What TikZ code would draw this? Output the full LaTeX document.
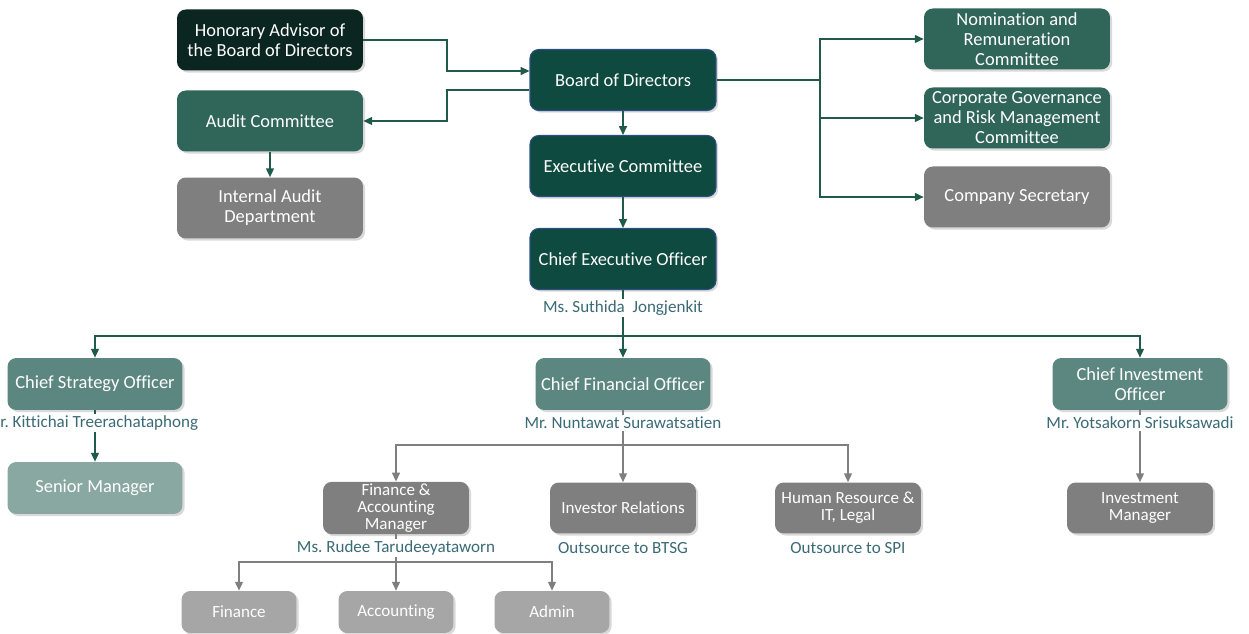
\documentclass[tikz,border=0pt]{standalone}
\usepackage{fontspec}
\setmainfont{Carlito}[Ligatures=NoCommon]
\usetikzlibrary{arrows.meta,shadows}
\frenchspacing

\definecolor{honcol}{HTML}{0B2621}
\definecolor{boardcol}{HTML}{0E4A3F}
\definecolor{boardline}{HTML}{2C4E86}
\definecolor{comcol}{HTML}{30655A}
\definecolor{offcol}{HTML}{5B8780}
\definecolor{seniorcol}{HTML}{88A8A1}
\definecolor{graycol}{HTML}{7F7F7F}
\definecolor{lightcol}{HTML}{A6A6A6}
\definecolor{linegreen}{HTML}{1F5A4B}
\definecolor{linegray}{HTML}{7F7F7F}
\definecolor{namecol}{HTML}{3A6A75}

\tikzset{
  orgbox/.style={rounded corners=5pt, text=white, align=center, inner sep=1pt,
    drop shadow={shadow xshift=1.2pt, shadow yshift=-1.2pt, opacity=0.3}},
  topbox/.style={orgbox, minimum width=3.72cm, minimum height=1.22cm,
    font=\fontsize{10.5}{11.4}\selectfont},
  boardbox/.style={topbox, fill=boardcol, draw=boardline, line width=0.6pt},
  midbox/.style={orgbox, minimum width=3.5cm, minimum height=1.04cm,
    font=\fontsize{10.5}{11.6}\selectfont, fill=offcol},
  lowbox/.style={orgbox, minimum width=2.92cm, minimum height=1.02cm,
    font=\fontsize{9.7}{9.7}\selectfont, fill=graycol},
  unitbox/.style={orgbox, minimum width=2.3cm, minimum height=0.84cm,
    font=\fontsize{9.7}{10}\selectfont, fill=lightcol},
  person/.style={fill=white, text=namecol, inner sep=1pt,
    font=\fontsize{9.7}{10}\selectfont},
  gline/.style={draw=linegreen, line width=0.8pt},
  garrow/.style={gline, -{Triangle[length=5pt,width=4.5pt]}},
  kline/.style={draw=linegray, line width=0.8pt},
  karrow/.style={kline, -{Triangle[length=5pt,width=4.5pt]}}
}

\begin{document}
\begin{tikzpicture}[x=0.02cm, y=-0.02cm]
\useasboundingbox (0,0) rectangle (1249,634);

% board level
\node[topbox, fill=honcol] (hon) at (270,40) {Honorary Advisor of\\the Board of Directors};
\node[topbox, fill=comcol] (audit) at (270,121) {Audit Committee};
\node[topbox, fill=graycol] (internal) at (270,208) {Internal Audit\\Department};
\node[boardbox] (board) at (623,80) {Board of Directors};
\node[boardbox] (exec) at (623,166) {Executive Committee};
\node[boardbox] (ceo) at (623,259) {Chief Executive Officer};
\node[topbox, fill=comcol] (nom) at (1017,39) {Nomination and\\Remuneration\\Committee};
\node[topbox, fill=comcol] (cgr) at (1017,118) {Corporate Governance\\and Risk Management\\Committee};
\node[topbox, fill=graycol] (sec) at (1017,197) {Company Secretary};

% officers
\node[midbox] (cso) at (95,384) {Chief Strategy Officer};
\node[midbox] (cfo) at (623,384) {Chief Financial Officer};
\node[midbox] (cio) at (1140,384) {Chief Investment\\Officer};
\node[midbox, fill=seniorcol] (senior) at (95,488) {Senior Manager};
\node[lowbox] (invmgr) at (1140,508) {Investment\\Manager};

% finance side
\node[lowbox] (fam) at (396,508) {Finance \&\\Accounting\\Manager};
\node[lowbox] (ir) at (623,508) {Investor Relations};
\node[lowbox] (hr) at (848,508) {Human Resource \&\\IT, Legal};
\node[unitbox] (fin) at (239,612) {Finance};
\node[unitbox] (acc) at (396,612) {Accounting};
\node[unitbox] (adm) at (552,612) {Admin};

% branch points
\coordinate (rb) at (820,80);
\coordinate (cb) at (623,336);
\coordinate (fb) at (623,445);
\coordinate (ab) at (396,562);

% connectors
\draw[garrow] (hon.east) -| (447,55) |- ([yshift=0.18cm]board.west);
\draw[garrow] ([yshift=-0.2cm]board.west) -| (447,105) |- (audit.east);
\draw[garrow] (audit) -- (internal);
\draw[gline] (board.east) -- (rb);
\draw[garrow] (rb) |- (nom.west);
\draw[garrow] (rb) |- (cgr.west);
\draw[garrow] (rb) |- (sec.west);
\draw[garrow] (board) -- (exec);
\draw[garrow] (exec) -- (ceo);
\draw[gline] (ceo.south) -- (cb);
\draw[garrow] (cb) -- (cfo.north);
\draw[garrow] (cb) -| (cso.north);
\draw[garrow] (cb) -| (cio.north);
\draw[garrow] (cso) -- (senior);
\draw[karrow] (cio) -- (invmgr);
\draw[kline] (cfo.south) -- (fb);
\draw[karrow] (fb) -| (fam.north);
\draw[karrow] (fb) -- (ir.north);
\draw[karrow] (fb) -| (hr.north);
\draw[kline] (fam.south) -- (ab);
\draw[karrow] (ab) -| (fin.north);
\draw[karrow] (ab) -- (acc.north);
\draw[karrow] (ab) -| (adm.north);

% names under the boxes
\node[person] (ceoname) at (623,308) {Ms. Suthida\ \ Jongjenkit};
\node[person, anchor=west, inner xsep=0pt] (csoname) at (0,423) {r. Kittichai Treerachataphong};
\node[person] (cfoname) at (623,423) {Mr. Nuntawat Surawatsatien};
\node[person] (cioname) at (1140,423) {Mr. Yotsakorn Srisuksawadi};
\node[person] (famname) at (396,548) {Ms. Rudee Tarudeeyataworn};
\node[person] (irname) at (623,548) {Outsource to BTSG};
\node[person] (hrname) at (848,548) {Outsource to SPI};
\end{tikzpicture}
\end{document}
